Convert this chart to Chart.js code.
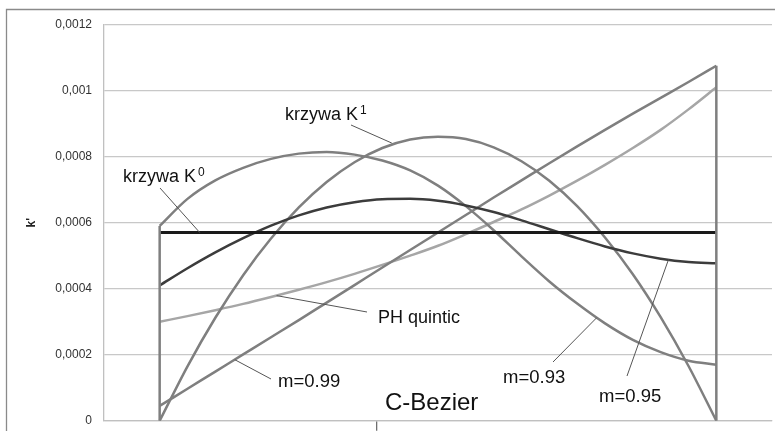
<!DOCTYPE html>
<html>
<head>
<meta charset="utf-8">
<script src="https://cdn.jsdelivr.net/npm/chart.js@4/dist/chart.umd.min.js"></script>
<style>
  html, body { margin: 0; padding: 0; background: #ffffff; overflow: hidden; }
  #wrap { width: 775px; height: 440px; position: relative; }
</style>
</head>
<body>
<div id="wrap"><canvas id="c"></canvas></div>
<script>
// ---- data ----
const tValues = [0, 0.05, 0.1, 0.15, 0.2, 0.25, 0.3, 0.35, 0.4, 0.45, 0.5, 0.55, 0.6, 0.65, 0.7, 0.75, 0.8, 0.85, 0.9, 0.95, 1];
const seriesK0 = [0.00057, 0.00057, 0.00057, 0.00057, 0.00057, 0.00057, 0.00057, 0.00057, 0.00057, 0.00057, 0.00057, 0.00057, 0.00057, 0.00057, 0.00057, 0.00057, 0.00057, 0.00057, 0.00057, 0.00057, 0.00057];
const seriesK1 = [0, 0.000165, 0.000312, 0.000441, 0.000552, 0.000646, 0.000723, 0.000783, 0.000826, 0.000852, 0.00086, 0.000853, 0.000828, 0.000786, 0.000727, 0.00065, 0.000555, 0.000444, 0.000314, 0.000166, 0];
const seriesM93 = [0.00059, 0.000672, 0.000728, 0.000766, 0.000793, 0.000809, 0.000814, 0.000806, 0.000788, 0.000758, 0.000712, 0.00065, 0.000577, 0.000498, 0.000422, 0.000355, 0.000295, 0.000245, 0.000208, 0.000182, 0.00017];
const seriesM95 = [0.00041, 0.000462, 0.00051, 0.000553, 0.000591, 0.000622, 0.000646, 0.000662, 0.000671, 0.000672, 0.000666, 0.000652, 0.000632, 0.000607, 0.00058, 0.000553, 0.000528, 0.000507, 0.000491, 0.000481, 0.000477];
const seriesM99 = [0.000045, 0.000097, 0.000149, 0.000201, 0.000253, 0.000305, 0.000358, 0.000411, 0.000464, 0.000517, 0.00057, 0.000623, 0.000676, 0.000728, 0.00078, 0.000831, 0.000881, 0.00093, 0.000978, 0.001026, 0.001075];
const seriesPH = [0.0003, 0.000317, 0.000335, 0.000354, 0.000375, 0.000397, 0.00042, 0.000445, 0.000472, 0.0005, 0.00053, 0.000565, 0.000602, 0.00064, 0.000682, 0.000727, 0.000775, 0.000826, 0.000881, 0.000943, 0.00101];
const leftEdgeTop = 0.00059;
const rightEdgeTop = 0.001075;
const yTicks = [0, 0.0002, 0.0004, 0.0006, 0.0008, 0.001, 0.0012];
const yTickLabels = ['0', '0,0002', '0,0004', '0,0006', '0,0008', '0,001', '0,0012'];
const xTickValues = [0.39];
const yTitle = "k'";

// ---- annotations (text + leader lines; curve end given in data units) ----
const annotations = [
  { text: 'krzywa K', sup: '1', x: 285, y: 120, size: 18, curve: { x: 0.417, y: 0.000841 }, lead: { x: 351, y: 125 } },
  { text: 'krzywa K', sup: '0', x: 123, y: 182, size: 18, curve: { x: 0.072, y: 0.00057 }, lead: { x: 160, y: 188 } },
  { text: 'PH quintic', x: 378, y: 323, size: 18, curve: { x: 0.21, y: 0.000379 }, lead: { x: 367, y: 312 } },
  { text: 'm=0.99', x: 278, y: 387, size: 18.5, curve: { x: 0.135, y: 0.000185 }, lead: { x: 271, y: 379 } },
  { text: 'm=0.93', x: 503, y: 383, size: 18.5, curve: { x: 0.785, y: 0.000312 }, lead: { x: 553, y: 362 } },
  { text: 'm=0.95', x: 599, y: 402, size: 18.5, curve: { x: 0.914, y: 0.000488 }, lead: { x: 627, y: 376 } },
  { text: 'C-Bezier', x: 385, y: 410, size: 24 }
];

const FONT = "'Liberation Sans', Arial, sans-serif";

function pts(arr) { return tValues.map((t, i) => ({ x: t, y: arr[i] })); }

const framePlugin = {
  id: 'frame',
  beforeDraw(chart) {
    const ctx = chart.ctx;
    ctx.save();
    ctx.strokeStyle = '#8a8a8a';
    ctx.lineWidth = 1.3;
    ctx.beginPath();
    ctx.moveTo(6.5, 440);
    ctx.lineTo(6.5, 9.5);
    ctx.lineTo(775, 9.5);
    ctx.stroke();
    ctx.restore();
  }
};

const annoPlugin = {
  id: 'anno',
  afterDatasetsDraw(chart) {
    const ctx = chart.ctx;
    const xs = chart.scales.x, ys = chart.scales.y;
    ctx.save();
    annotations.forEach(a => {
      if (a.curve) {
        ctx.strokeStyle = '#555555';
        ctx.lineWidth = 1;
        ctx.beginPath();
        ctx.moveTo(a.lead.x, a.lead.y);
        ctx.lineTo(xs.getPixelForValue(a.curve.x), ys.getPixelForValue(a.curve.y));
        ctx.stroke();
      }
      ctx.fillStyle = '#111111';
      ctx.textBaseline = 'alphabetic';
      ctx.textAlign = 'left';
      ctx.font = a.size + 'px ' + FONT;
      ctx.fillText(a.text, a.x, a.y);
      if (a.sup) {
        const w = ctx.measureText(a.text).width;
        ctx.font = '12px ' + FONT;
        ctx.fillText(a.sup, a.x + w + 2, a.y - 6);
      }
    });
    ctx.restore();
  }
};

const line = (data, color, width) => ({
  data: data,
  borderColor: color,
  borderWidth: width,
  pointRadius: 0,
  fill: false,
  cubicInterpolationMode: 'monotone'
});

new Chart(document.getElementById('c'), {
  type: 'line',
  data: {
    datasets: [
      line([{ x: 0, y: 0 }, { x: 0, y: leftEdgeTop }], '#7f7f7f', 2.5),
      line([{ x: 1, y: 0 }, { x: 1, y: rightEdgeTop }], '#7f7f7f', 2.5),
      line(pts(seriesK0), '#1a1a1a', 3),
      line(pts(seriesM95), '#3c3c3c', 2.5),
      line(pts(seriesK1), '#7f7f7f', 2.5),
      line(pts(seriesM93), '#7f7f7f', 2.5),
      line(pts(seriesM99), '#7f7f7f', 2.5),
      line(pts(seriesPH), '#a6a6a6', 2.5)
    ]
  },
  options: {
    responsive: true,
    maintainAspectRatio: false,
    animation: false,
    events: [],
    layout: { padding: { top: 24.5, right: 3, bottom: 0, left: 0 } },
    plugins: { legend: { display: false }, tooltip: { enabled: false }, title: { display: false } },
    scales: {
      x: {
        type: 'linear',
        min: -0.1,
        max: 1.1,
        afterBuildTicks(scale) { scale.ticks = xTickValues.map(v => ({ value: v })); },
        afterFit(scale) { scale.height = 10; },
        ticks: { display: false },
        grid: { drawOnChartArea: false, drawTicks: true, tickLength: 10, color: '#6f6f6f', lineWidth: 1.3 },
        border: { color: '#c0c0c0', width: 1.3 }
      },
      y: {
        type: 'linear',
        min: 0,
        max: 0.0012,
        afterBuildTicks(scale) { scale.ticks = yTicks.map(v => ({ value: v })); },
        afterFit(scale) { scale.width = 104; },
        ticks: {
          padding: 12,
          color: '#333333',
          font: { family: FONT, size: 12 },
          callback(value, index) { return yTickLabels[index]; }
        },
        grid: { color: '#c8c8c8', lineWidth: 1.2, drawTicks: false },
        border: { color: '#c0c0c0', width: 1.3 },
        title: {
          display: true,
          text: yTitle,
          color: '#222222',
          font: { family: FONT, size: 12, weight: 'bold' },
          padding: { top: 24, bottom: 0 }
        }
      }
    }
  },
  plugins: [framePlugin, annoPlugin]
});
</script>
</body>
</html>
